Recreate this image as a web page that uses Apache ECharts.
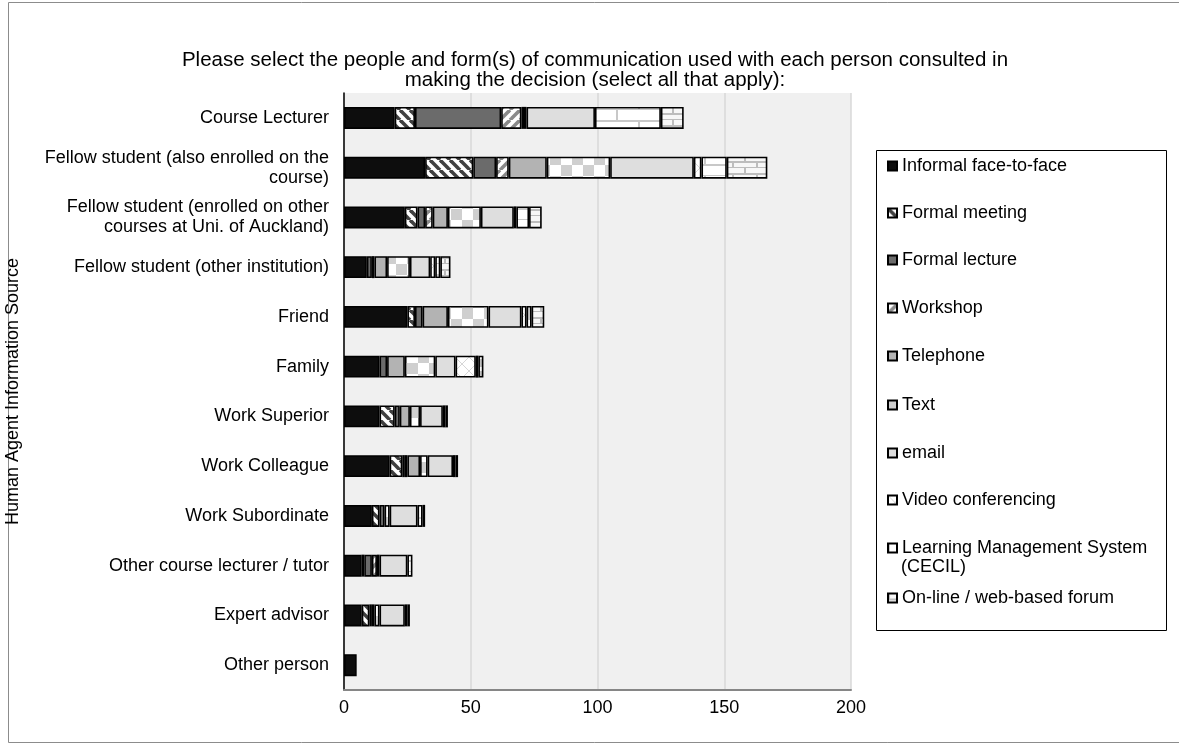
<!DOCTYPE html>
<html>
<head>
<meta charset="utf-8">
<script src="https://cdn.jsdelivr.net/npm/echarts@6/dist/echarts.min.js"></script>
<style>
  html, body { margin: 0; padding: 0; background: #fff; }
  #chart { width: 1179px; height: 744px; }
</style>
</head>
<body>
<div id="chart"></div>
<script>
// People consulted (top to bottom)
const categories = [
  'Course Lecturer',
  'Fellow student (also enrolled on the\ncourse)',
  'Fellow student (enrolled on other\ncourses at Uni. of Auckland)',
  'Fellow student (other institution)',
  'Friend',
  'Family',
  'Work Superior',
  'Work Colleague',
  'Work Subordinate',
  'Other course lecturer / tutor',
  'Expert advisor',
  'Other person'
];

// Counts per form of communication, one value per person above
const informal      = [20, 32, 24, 9, 25, 14, 14, 18, 11, 7, 7, 5];
const formalMeeting = [8, 19, 5, 0, 3, 0, 6, 5, 3, 1, 3, 0];
const formalLecture = [34, 9, 3, 2, 3, 3, 2, 1, 2, 3, 1, 0];
const workshop      = [8, 5, 3, 1, 0, 0, 0, 1, 0, 2, 0, 0];
const telephone     = [1, 15, 6, 5, 10, 7, 4, 5, 0, 0, 1, 0];
const textMsg       = [1, 25, 13, 9, 16, 12, 4, 3, 2, 1, 2, 0];
const email         = [27, 33, 13, 8, 13, 8, 9, 10, 11, 11, 10, 0];
const videoConf     = [0, 3, 1, 2, 2, 8, 1, 1, 2, 0, 1, 0];
const lms           = [26, 10, 5, 2, 2, 1, 1, 1, 1, 2, 1, 0];
const forum         = [9, 16, 5, 4, 5, 2, 0, 0, 0, 0, 0, 0];

const xTicks = [0, 50, 100, 150, 200];

const FONT = '"Liberation Sans", Arial, sans-serif';

// Tile builders for the fill patterns
function tile(w, h, draw) {
  const c = document.createElement('canvas');
  c.width = w; c.height = h;
  const ctx = c.getContext('2d');
  draw(ctx, w, h);
  return { image: c, repeat: 'repeat' };
}
function stripes(dir, fg) {
  const s = 10;
  return tile(s, s, (ctx) => {
    ctx.fillStyle = '#ffffff';
    ctx.fillRect(0, 0, s, s);
    ctx.strokeStyle = fg;
    ctx.lineWidth = 3.6;
    for (let k = -1; k <= 1; k++) {
      ctx.beginPath();
      if (dir === 'back') {
        ctx.moveTo(k * s, 0); ctx.lineTo(k * s + s, s);
      } else {
        ctx.moveTo(k * s + s, 0); ctx.lineTo(k * s, s);
      }
      ctx.stroke();
    }
  });
}
const checker = tile(22, 22, (ctx) => {
  ctx.fillStyle = '#ffffff'; ctx.fillRect(0, 0, 22, 22);
  ctx.fillStyle = '#cfcfcf';
  ctx.fillRect(0, 0, 11, 11); ctx.fillRect(11, 11, 11, 11);
});
const trellis = tile(14, 14, (ctx) => {
  ctx.fillStyle = '#ffffff'; ctx.fillRect(0, 0, 14, 14);
  ctx.strokeStyle = '#d6d6d6'; ctx.lineWidth = 1;
  ctx.beginPath(); ctx.moveTo(0, 0); ctx.lineTo(14, 14); ctx.stroke();
  ctx.beginPath(); ctx.moveTo(14, 0); ctx.lineTo(0, 14); ctx.stroke();
});
const lmsBrick = tile(44, 22, (ctx) => {
  ctx.fillStyle = '#ffffff'; ctx.fillRect(0, 0, 44, 22);
  ctx.fillStyle = '#c8c8c8';
  ctx.fillRect(0, 10, 44, 2); ctx.fillRect(0, 21, 44, 1);
  ctx.fillRect(0, 0, 2, 10); ctx.fillRect(22, 12, 2, 10);
});
const forumBrick = tile(24, 12, (ctx) => {
  ctx.fillStyle = '#f7f7f7'; ctx.fillRect(0, 0, 24, 12);
  ctx.fillStyle = '#bdbdbd';
  ctx.fillRect(0, 5, 24, 2); ctx.fillRect(0, 11, 24, 1);
  ctx.fillRect(0, 0, 2, 5); ctx.fillRect(12, 7, 2, 4);
});

const seriesDefs = [
  { name: 'Informal face-to-face', data: informal, fill: '#0d0d0d' },
  { name: 'Formal meeting', data: formalMeeting, fill: stripes('back', '#404040') },
  { name: 'Formal lecture', data: formalLecture, fill: '#6b6b6b' },
  { name: 'Workshop', data: workshop, fill: stripes('fwd', '#8a8a8a') },
  { name: 'Telephone', data: telephone, fill: '#b3b3b3' },
  { name: 'Text', data: textMsg, fill: checker },
  { name: 'email', data: email, fill: '#dedede' },
  { name: 'Video conferencing', data: videoConf, fill: trellis },
  { name: 'Learning Management System (CECIL)', data: lms, fill: lmsBrick },
  { name: 'On-line / web-based forum', data: forum, fill: forumBrick }
];

// Legend rows (centre of each entry's first line)
const legendRows = [166, 213, 260, 308, 356, 405, 453, 500, 548, 598];
const LMS_INDEX = 8;

const legends = seriesDefs.map((s, i) => ({
  data: [s.name],
  orient: 'vertical',
  left: 887,
  top: legendRows[i] - 10,
  itemWidth: 9,
  itemHeight: 9,
  itemGap: 0,
  padding: 0,
  selectedMode: false,
  icon: 'rect',
  formatter: i === LMS_INDEX ? 'Learning Management System' : '{name}',
  textStyle: { fontFamily: FONT, fontSize: 18, color: '#000', lineHeight: 20 }
}));

const chart = echarts.init(document.getElementById('chart'), null, { renderer: 'canvas' });

chart.setOption({
  backgroundColor: '#ffffff',
  animation: false,
  title: {
    text: 'Please select the people and form(s) of communication used with each person consulted in\nmaking the decision (select all that apply):',
    left: 590,
    textAlign: 'center',
    top: 45,
    textStyle: { fontFamily: FONT, fontSize: 20.5, fontWeight: 'normal', color: '#000', lineHeight: 20 }
  },
  graphic: [
    { type: 'rect', shape: { x: 8.5, y: 2.5, width: 1180, height: 740 }, style: { fill: 'none', stroke: '#8c8c8c', lineWidth: 1 }, silent: true },
    { type: 'rect', shape: { x: 876.5, y: 150.5, width: 290, height: 480 }, style: { fill: '#fff', stroke: '#000', lineWidth: 1 }, silent: true, z: -1 },
    // second line of the LMS legend entry
    { type: 'text', left: 901, top: 558, silent: true,
      style: { text: '(CECIL)', font: '18px ' + FONT, fill: '#000' } }
  ],
  legend: legends,
  grid: {
    left: 344, right: 328, top: 93, bottom: 54,
    show: true, backgroundColor: '#f0f0f0', borderWidth: 0
  },
  xAxis: {
    type: 'value',
    min: xTicks[0],
    max: xTicks[xTicks.length - 1],
    interval: xTicks[1] - xTicks[0],
    axisLine: { show: true, lineStyle: { color: '#868686', width: 2 } },
    axisTick: { show: false },
    splitLine: { show: true, lineStyle: { color: '#d9d9d9', width: 1.5 } },
    axisLabel: { fontFamily: FONT, fontSize: 18, color: '#000', margin: 9 }
  },
  yAxis: {
    type: 'category',
    data: categories,
    inverse: true,
    name: 'Human Agent Information Source',
    nameLocation: 'middle',
    nameRotate: 90,
    nameGap: 322,
    nameTextStyle: { fontFamily: FONT, fontSize: 18, color: '#000' },
    axisLine: { show: true, lineStyle: { color: '#000', width: 1.5 } },
    axisTick: { show: false },
    axisLabel: { fontFamily: FONT, fontSize: 18, color: '#000', margin: 15, lineHeight: 20 }
  },
  series: seriesDefs.map((s) => ({
    name: s.name,
    type: 'bar',
    stack: 'total',
    barWidth: 22,
    data: s.data.map((v) => (v === 0 ? null : v)),
    itemStyle: { color: s.fill, borderColor: '#000', borderWidth: 1.6 }
  }))
});
</script>
</body>
</html>
